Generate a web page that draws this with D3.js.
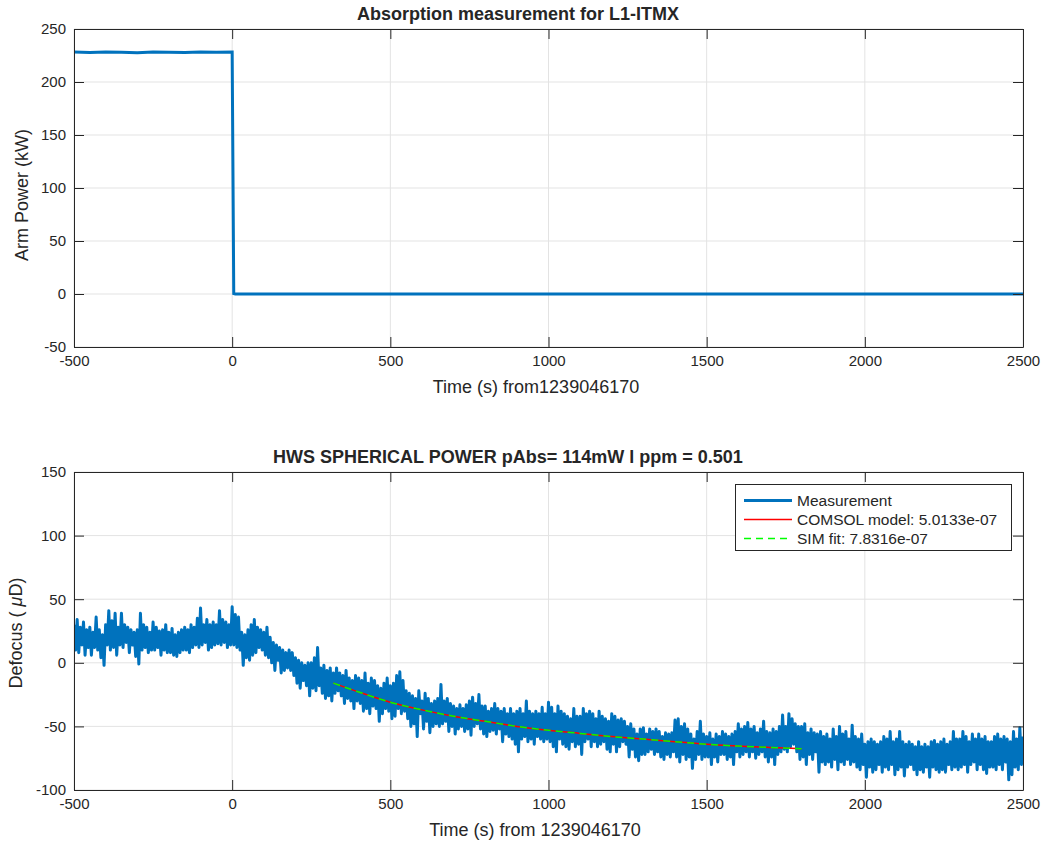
<!DOCTYPE html>
<html>
<head>
<meta charset="utf-8">
<script src="https://cdn.jsdelivr.net/npm/d3@7"></script>
<style>
body { margin: 0; background: #fff; }
svg text { font-family: "Liberation Sans", Arial, sans-serif; fill: #262626; }
</style>
</head>
<body>
<div id="chart"></div>
<script>
// top panel: arm power (kW)
var powerTime = [-500, -450, -400, -350, -300, -250, -200, -150, -100, -50, 0, 5, 10, 250, 500, 750, 1000, 1250, 1500, 1750, 2000, 2250, 2500];
var powerValue = [228.3, 227.8, 228.4, 228.0, 227.7, 228.3, 228.1, 227.8, 228.4, 228.0, 228.2, 0.4, 0.0, 0.1, -0.1, 0.0, 0.1, 0.0, -0.1, 0.1, 0.0, 0.1, 0.0];

// bottom panel: HWS defocus (uD), one value every 5 s from -500 to 2500
var measTime = d3.range(-500, 2501, 5);
var measValue = [
  30, 10, 34, 8, 28, 14, 32, 6, 26, 12,
  28, 6, 24, 12, 36, 10, 26, 4, 22, -2,
  30, 14, 41, 10, 33, 12, 39, 6, 28, 14,
  39, 12, 30, 16, 28, 8, 26, 14, 24, 5,
  26, -1, 39, 10, 30, 12, 28, 8, 24, 10,
  32, 10, 28, 12, 25, 6, 26, 10, 30, 8,
  24, 8, 27, 6, 22, 5, 24, 8, 26, 10,
  28, 10, 26, 8, 30, 12, 28, 14, 35, 12,
  43, 14, 30, 16, 34, 10, 30, 12, 32, 14,
  30, 15, 41, 14, 34, 16, 32, 12, 30, 14,
  44, 14, 38, 12, 36, 10, 24, -2, 22, 4,
  26, 2, 30, 6, 34, 8, 28, 12, 26, 10,
  24, 6, 28, 4, 20, 0, 16, -6, 14, 2,
  12, -8, 10, -6, 8, -4, 10, -6, 8, -10,
  4, -16, 2, -20, 0, -14, -2, -18, 0, -26,
  0, -20, 4, -22, 12, -18, -4, -24, -2, -28,
  -6, -26, -4, -30, -8, -24, -4, -22, -8, -26,
  -10, -32, -6, -28, -12, -30, -14, -36, -10, -30,
  -12, -32, -14, -38, -8, -36, -16, -40, -12, -34,
  -14, -36, -18, -46, -20, -40, -16, -36, -12, -38,
  -18, -44, -16, -42, -10, -36, -7, -40, -14, -38,
  -22, -44, -24, -50, -26, -48, -28, -58, -22, -40,
  -30, -52, -24, -46, -28, -55, -32, -50, -30, -48,
  -28, -50, -17, -48, -30, -46, -28, -54, -32, -50,
  -34, -56, -36, -52, -33, -50, -36, -54, -33, -52,
  -30, -57, -27, -50, -32, -48, -25, -52, -34, -56,
  -34, -58, -38, -54, -36, -53, -32, -56, -36, -52,
  -38, -62, -36, -56, -40, -58, -36, -60, -40, -64,
  -38, -70, -36, -60, -40, -58, -30, -62, -38, -60,
  -40, -64, -38, -58, -40, -60, -35, -62, -40, -60,
  -31, -62, -35, -66, -40, -70, -34, -60, -38, -64,
  -40, -66, -42, -68, -44, -62, -36, -66, -42, -64,
  -42, -72, -36, -62, -40, -60, -38, -66, -40, -62,
  -44, -66, -38, -64, -42, -62, -44, -68, -46, -70,
  -40, -64, -42, -70, -45, -66, -44, -62, -46, -64,
  -50, -74, -48, -68, -52, -74, -56, -77, -52, -72,
  -51, -72, -56, -70, -52, -68, -54, -72, -52, -70,
  -54, -74, -58, -76, -55, -72, -56, -74, -55, -70,
  -45, -74, -44, -78, -50, -72, -48, -76, -52, -74,
  -56, -83, -60, -76, -54, -72, -46, -76, -56, -74,
  -58, -74, -55, -80, -60, -74, -56, -78, -58, -72,
  -54, -72, -56, -76, -58, -74, -56, -80, -54, -70,
  -48, -74, -52, -72, -50, -70, -47, -74, -52, -70,
  -50, -75, -55, -72, -52, -70, -46, -74, -54, -78,
  -55, -74, -52, -80, -54, -72, -50, -70, -41, -68,
  -50, -70, -40, -66, -44, -64, -48, -70, -50, -76,
  -50, -74, -48, -80, -55, -72, -52, -76, -55, -70,
  -56, -86, -54, -78, -58, -80, -56, -78, -60, -82,
  -52, -76, -58, -84, -50, -78, -56, -80, -54, -76,
  -60, -80, -49, -78, -58, -82, -60, -84, -56, -80,
  -64, -90, -62, -82, -60, -86, -62, -84, -64, -80,
  -62, -86, -58, -82, -60, -84, -54, -80, -62, -88,
  -60, -84, -54, -82, -62, -89, -64, -82, -62, -80,
  -64, -84, -66, -88, -62, -84, -66, -86, -64, -82,
  -66, -90, -62, -82, -61, -84, -64, -86, -62, -84,
  -60, -86, -64, -80, -62, -84, -54, -82, -60, -84,
  -60, -82, -54, -80, -58, -86, -62, -80, -56, -78,
  -60, -84, -56, -80, -60, -84, -58, -87, -62, -82,
  -62, -82, -58, -84, -56, -80, -60, -84, -58, -78,
  -60, -92, -62, -88, -54, -82, -60, -84, -51, -80,
  -58
];

// model curves
var fitTime = [320, 400, 500, 600, 700, 800, 900, 1000, 1100, 1200, 1300, 1400, 1500, 1600, 1700, 1800];
var comsolValue = [-16, -23, -31, -37, -42, -46, -50, -53, -55.5, -58, -60, -62, -64, -65.5, -66.5, -67.5];
var simValue = [-16, -23, -31, -37, -42, -46, -50, -53, -55.5, -58, -60, -62, -64, -65.5, -66.5, -67.5];

var xTicks = [-500, 0, 500, 1000, 1500, 2000, 2500];
var powerTicks = [-50, 0, 50, 100, 150, 200, 250];
var defocusTicks = [-100, -50, 0, 50, 100, 150];
var legendLabels = ["Measurement", "COMSOL model: 5.0133e-07", "SIM fit: 7.8316e-07"];

var w = 1044, h = 844;
var left = 74, right = 1023;
var blue = "#0072BD", axisColor = "#262626", gridColor = "#e3e3e3";

var svg = d3.select("#chart").append("svg")
    .attr("width", w)
    .attr("height", h);

function fmt(d) { return String(d); }

// draws one matlab-like axes box and returns its scales
function panel(id, top, bottom, yDomain, yTicks, title, xLabel, yLabel) {
    var x = d3.scaleLinear().domain([-500, 2500]).range([left, right]);
    var y = d3.scaleLinear().domain(yDomain).range([bottom, top]);
    var g = svg.append("g");

    // grid
    g.append("g").selectAll("line").data(xTicks).enter().append("line")
        .attr("x1", function(d) { return x(d); }).attr("x2", function(d) { return x(d); })
        .attr("y1", top).attr("y2", bottom)
        .attr("stroke", gridColor);
    g.append("g").selectAll("line").data(yTicks).enter().append("line")
        .attr("y1", function(d) { return y(d); }).attr("y2", function(d) { return y(d); })
        .attr("x1", left).attr("x2", right)
        .attr("stroke", gridColor);

    svg.append("clipPath").attr("id", id)
        .append("rect").attr("x", left).attr("y", top)
        .attr("width", right - left).attr("height", bottom - top);

    var plot = g.append("g").attr("clip-path", "url(#" + id + ")");

    var axes = svg.append("g");
    axes.append("g").attr("transform", "translate(0," + bottom + ")")
        .call(d3.axisBottom(x).tickValues(xTicks).tickFormat(fmt).tickSizeInner(-10).tickSizeOuter(0).tickPadding(8));
    axes.append("g").attr("transform", "translate(0," + top + ")")
        .call(d3.axisTop(x).tickValues(xTicks).tickFormat("").tickSizeInner(-10).tickSizeOuter(0));
    axes.append("g").attr("transform", "translate(" + left + ",0)")
        .call(d3.axisLeft(y).tickValues(yTicks).tickFormat(fmt).tickSizeInner(-10).tickSizeOuter(0).tickPadding(8));
    axes.append("g").attr("transform", "translate(" + right + ",0)")
        .call(d3.axisRight(y).tickValues(yTicks).tickFormat("").tickSizeInner(-10).tickSizeOuter(0));
    axes.selectAll("path, line").attr("stroke", axisColor);
    axes.selectAll("text").attr("font-size", "15px").attr("fill", axisColor);

    svg.append("text")
        .attr("x", title.cx).attr("y", top - 9)
        .attr("text-anchor", "middle")
        .attr("font-size", "18px").attr("font-weight", "bold")
        .attr("fill", "#000")
        .text(title.t);

    svg.append("text")
        .attr("x", xLabel.cx).attr("y", bottom + 46)
        .attr("text-anchor", "middle")
        .attr("font-size", "18px")
        .text(xLabel.t);

    var yl = svg.append("text")
        .attr("transform", "translate(" + yLabel.x + "," + yLabel.cy + ") rotate(-90)")
        .attr("text-anchor", "middle")
        .attr("font-size", "18px");
    yLabel.parts.forEach(function(p) {
        yl.append("tspan").attr("font-style", p.italic ? "italic" : null).text(p.t);
    });

    return { x: x, y: y, plot: plot };
}

// top panel
var p1 = panel("clipTop", 29, 347, [-50, 250], powerTicks,
    { t: "Absorption measurement for L1-ITMX", cx: 518 },
    { t: "Time (s) from1239046170", cx: 536 },
    { x: 28, cy: 195, parts: [{ t: "Arm Power (kW)" }] });

var powerLine = d3.line()
    .x(function(d, i) { return p1.x(powerTime[i]); })
    .y(function(d) { return p1.y(d); });
p1.plot.append("path").datum(powerValue)
    .attr("d", powerLine)
    .attr("fill", "none").attr("stroke", blue).attr("stroke-width", 3);

// bottom panel
var p2 = panel("clipBottom", 472, 790, [-100, 150], defocusTicks,
    { t: "HWS SPHERICAL POWER pAbs= 114mW l ppm = 0.501", cx: 508 },
    { t: "Time (s) from 1239046170", cx: 535 },
    { x: 22, cy: 633, parts: [{ t: "Defocus ( " }, { t: "\u03bc", italic: true }, { t: "D)" }] });

var measLine = d3.line()
    .x(function(d, i) { return p2.x(measTime[i]); })
    .y(function(d) { return p2.y(d); });
p2.plot.append("path").datum(measValue)
    .attr("d", measLine)
    .attr("fill", "none").attr("stroke", blue).attr("stroke-width", 3)
    .attr("stroke-linejoin", "round");

var fitLine = d3.line().curve(d3.curveMonotoneX)
    .x(function(d, i) { return p2.x(fitTime[i]); })
    .y(function(d) { return p2.y(d); });
p2.plot.append("path").datum(comsolValue)
    .attr("d", fitLine)
    .attr("fill", "none").attr("stroke", "#ff0000").attr("stroke-width", 1.5);
p2.plot.append("path").datum(simValue)
    .attr("d", fitLine)
    .attr("fill", "none").attr("stroke", "#00ff00").attr("stroke-width", 1.5)
    .attr("stroke-dasharray", "7,5");

// legend
var lg = svg.append("g");
lg.append("rect")
    .attr("x", 735.5).attr("y", 484.5).attr("width", 276).attr("height", 66)
    .attr("fill", "#fff").attr("stroke", axisColor);
var legendStyles = [
    { color: blue, width: 3, dash: null },
    { color: "#ff0000", width: 1.3, dash: null },
    { color: "#00ff00", width: 1.3, dash: "7,5" }
];
lg.selectAll("line.key").data(legendLabels).enter().append("line")
    .attr("class", "key")
    .attr("x1", 744).attr("x2", 792)
    .attr("y1", function(d, i) { return 500.5 + i * 19; })
    .attr("y2", function(d, i) { return 500.5 + i * 19; })
    .attr("stroke", function(d, i) { return legendStyles[i].color; })
    .attr("stroke-width", function(d, i) { return legendStyles[i].width; })
    .attr("stroke-dasharray", function(d, i) { return legendStyles[i].dash; });
lg.selectAll("text.key").data(legendLabels).enter().append("text")
    .attr("class", "key")
    .attr("x", 797)
    .attr("y", function(d, i) { return 500.5 + i * 19; })
    .attr("dy", "0.35em")
    .attr("font-size", "15.5px")
    .attr("fill", "#000")
    .text(function(d) { return d; });
</script>
</body>
</html>
